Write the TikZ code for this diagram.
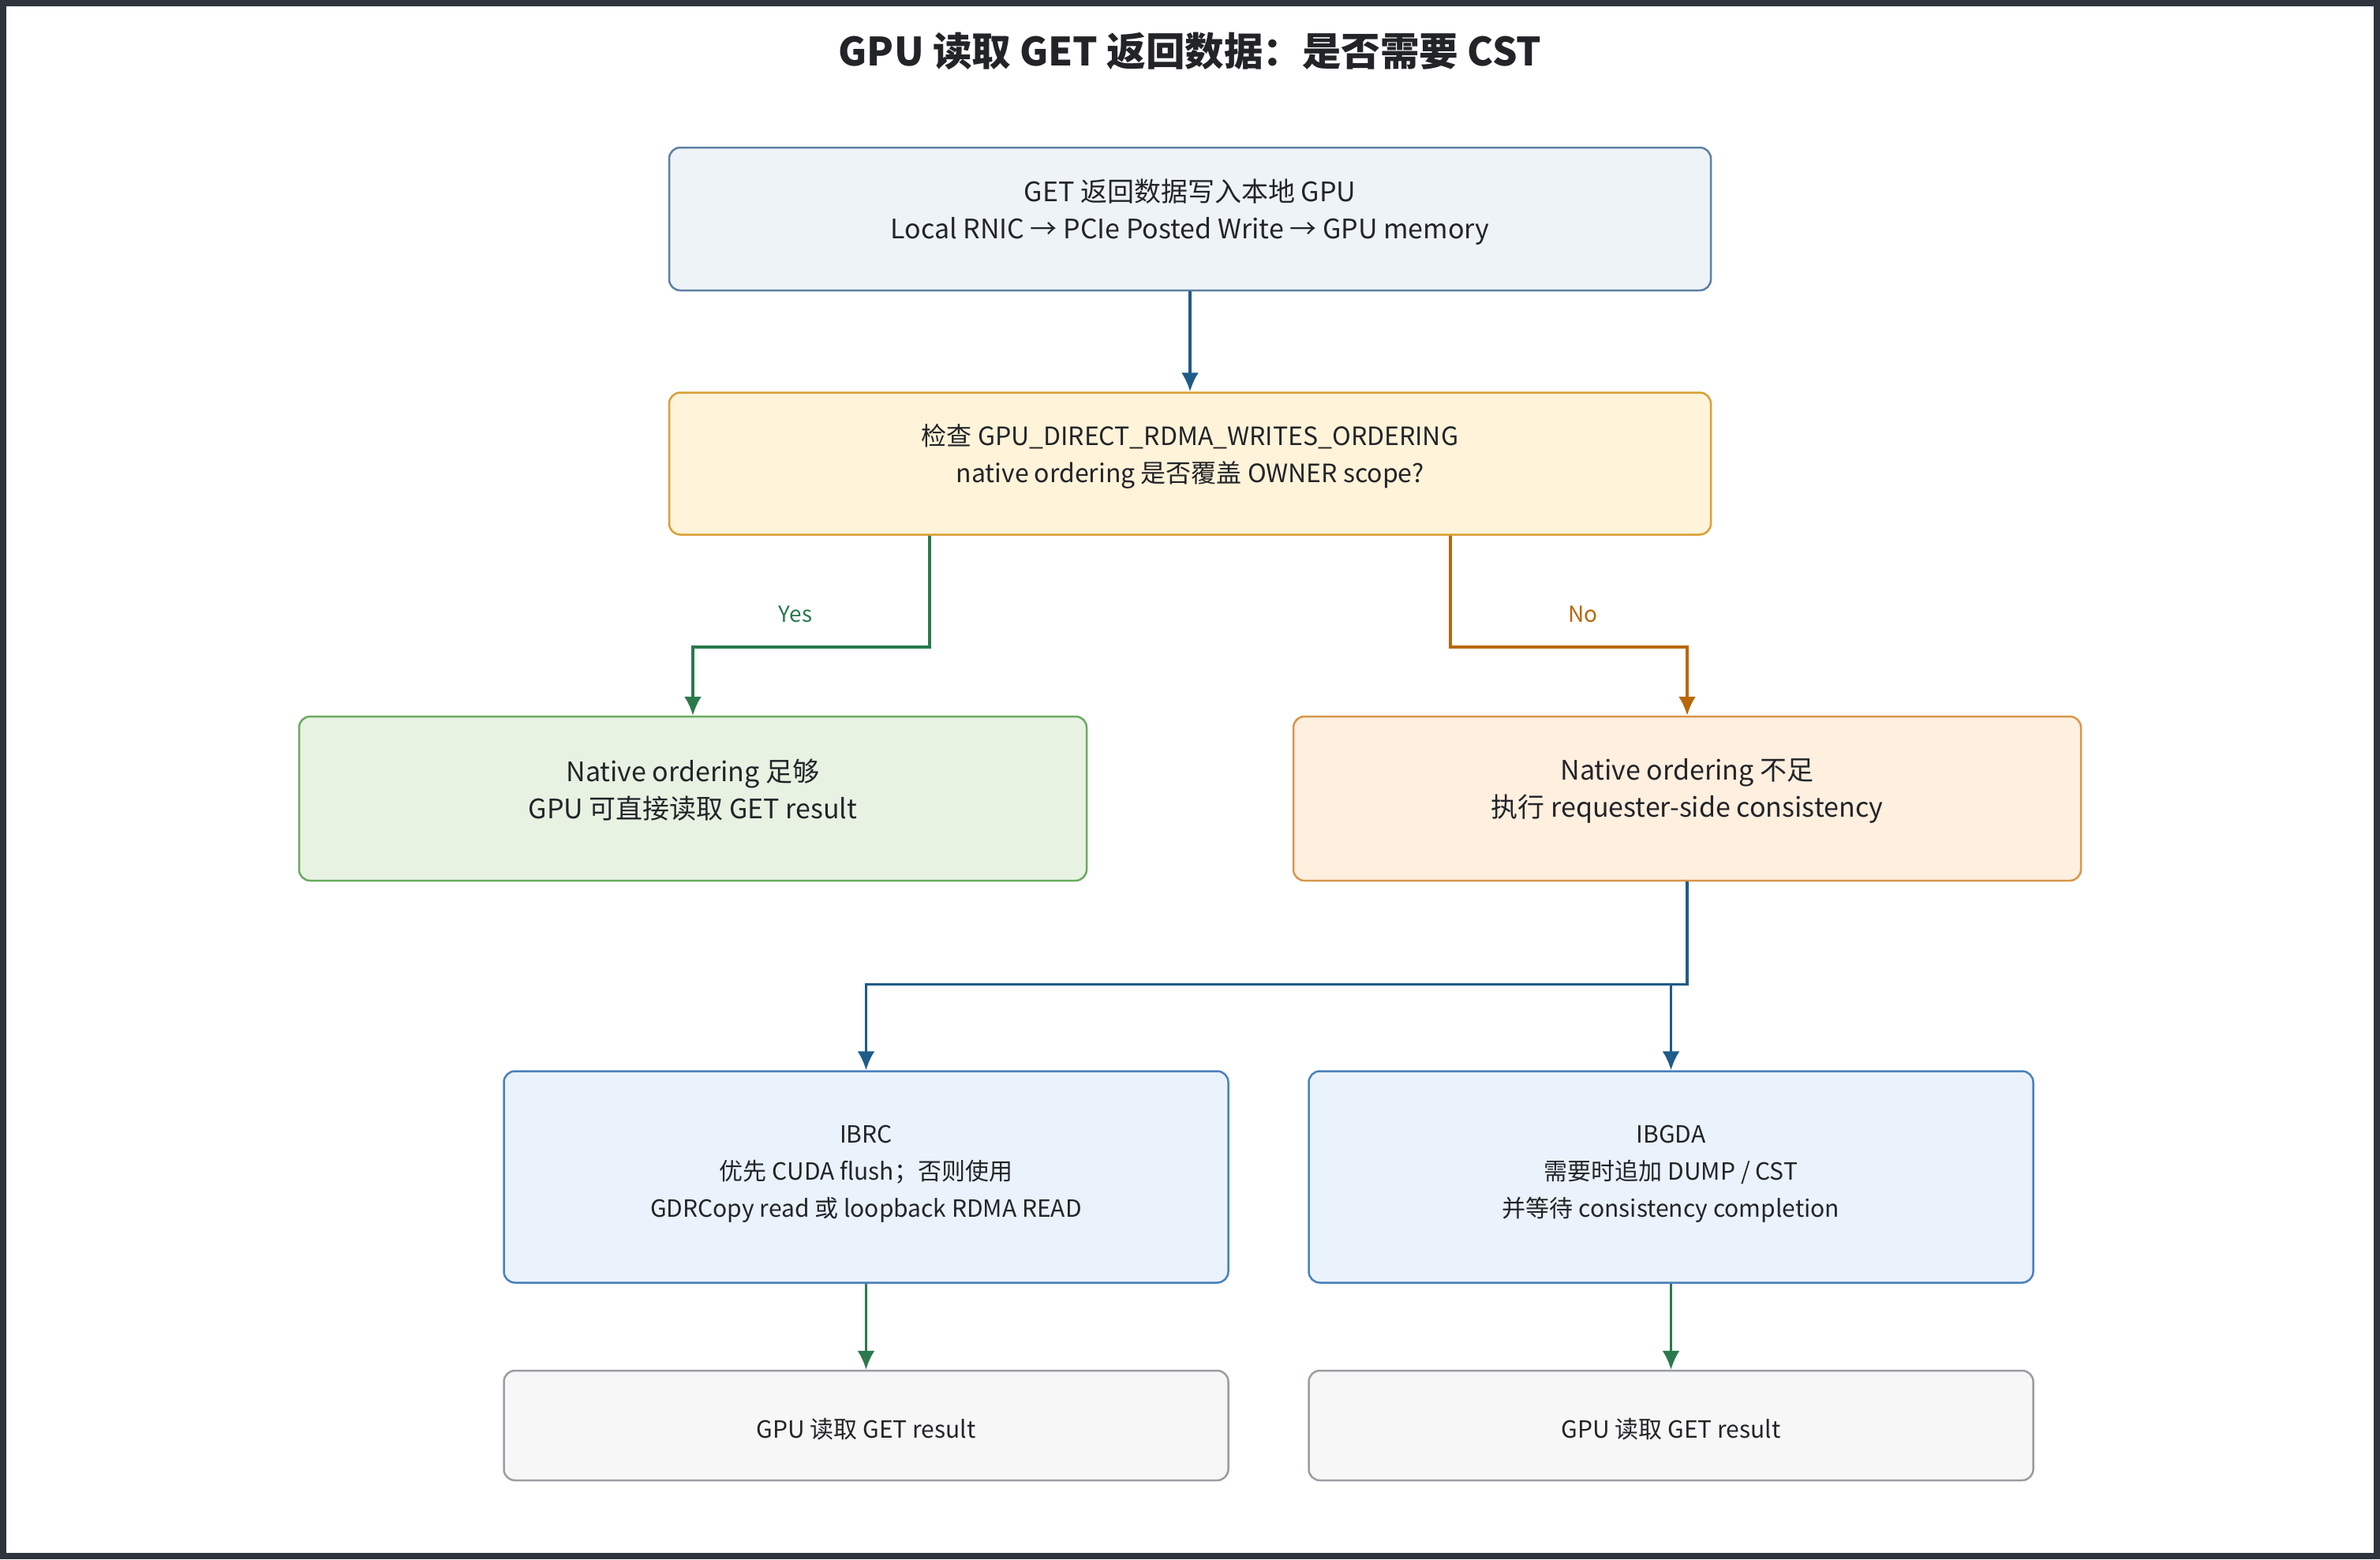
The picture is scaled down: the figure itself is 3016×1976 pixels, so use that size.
\documentclass[tikz,border=0pt]{standalone}
\usepackage{fontspec}
\setmainfont{Noto Sans CJK SC}
\usetikzlibrary{arrows.meta}

\definecolor{framegray}{HTML}{2F333B}
\definecolor{textdark}{HTML}{222428}
\definecolor{topfill}{HTML}{EEF3F8}
\definecolor{topline}{HTML}{5D7FA3}
\definecolor{checkfill}{HTML}{FFF3D9}
\definecolor{checkline}{HTML}{D9A035}
\definecolor{yesfill}{HTML}{E7F2E3}
\definecolor{yesline}{HTML}{6AAB5F}
\definecolor{nofill}{HTML}{FFEFDF}
\definecolor{noline}{HTML}{D8964A}
\definecolor{ibfill}{HTML}{EAF2FB}
\definecolor{ibline}{HTML}{4A81BE}
\definecolor{resfill}{HTML}{F7F7F7}
\definecolor{resline}{HTML}{9A9DA2}
\definecolor{arrblue}{HTML}{1F5C87}
\definecolor{arrgreen}{HTML}{2A7A4C}
\definecolor{arrorange}{HTML}{B8680A}

\newcommand{\wtop}{1320pt}
\newcommand{\wmid}{998pt}
\newcommand{\wlow}{918pt}
% invisible struts to nudge the text inside a box
\newcommand{\lowstrut}[1]{\rule[-#1]{0pt}{0pt}}
\newcommand{\highstrut}[1]{\rule{0pt}{#1}}

\begin{document}
\begin{tikzpicture}[x=1pt, y=-1pt,
    box/.style={draw, rectangle, rounded corners=14pt, line width=2.5pt, align=center, inner sep=0pt, text=textdark, font=\fontsize{34}{47}\selectfont},
    lowbox/.style={box, minimum width=\wlow, font=\fontsize{30}{47}\selectfont},
    arr/.style={line width=3.5pt, -{Latex[length=24pt, width=22pt]}},
    lbl/.style={font=\fontsize{28}{34}\selectfont}]

    % Frame
    \fill[framegray] (0,0) rectangle (3016,1976);
    \fill[white] (8,8) rectangle (3008,1968);

    \node[font=\fontsize{49.5}{56}\selectfont\bfseries, text=textdark] (title) at (1508,65) {GPU 读取 GET 返回数据：是否需要 CST};

    % First row
    \node[box, fill=topfill, draw=topline, minimum width=\wtop, minimum height=181pt] (box-top) at (1508,277.5)
        {GET 返回数据写入本地 GPU\\Local RNIC → PCIe Posted Write → GPU memory\lowstrut{25pt}};
    \node[box, fill=checkfill, draw=checkline, minimum width=\wtop, minimum height=180pt, font=\fontsize{32}{47}\selectfont] (box-check) at (1508,587.5)
        {检查 GPU\_DIRECT\_RDMA\_WRITES\_ORDERING\\native ordering 是否覆盖 OWNER scope?\lowstrut{27pt}};

    % Second row
    \node[box, fill=yesfill, draw=yesline, minimum width=\wmid, minimum height=208pt] (box-yes) at (878,1012)
        {Native ordering 足够\\GPU 可直接读取 GET result\lowstrut{24pt}};
    \node[box, fill=nofill, draw=noline, minimum width=\wmid, minimum height=208pt] (box-no) at (2138,1012)
        {Native ordering 不足\\执行 requester-side consistency\lowstrut{27pt}};

    % Third row
    \node[lowbox, fill=ibfill, draw=ibline, minimum height=268pt] (box-ibrc) at (1097.5,1491.5)
        {IBRC\\优先 CUDA flush；否则使用\\GDRCopy read 或 loopback RDMA READ\lowstrut{15pt}};
    \node[lowbox, fill=ibfill, draw=ibline, minimum height=268pt] (box-ibgda) at (2117.5,1491.5)
        {IBGDA\\需要时追加 DUMP / CST\\并等待 consistency completion\lowstrut{15pt}};

    % Fourth row
    \node[lowbox, fill=resfill, draw=resline, minimum height=139pt] (res-ibrc) at (1097.5,1806.5) {\highstrut{35pt}GPU 读取 GET result};
    \node[lowbox, fill=resfill, draw=resline, minimum height=139pt] (res-ibgda) at (2117.5,1806.5) {\highstrut{35pt}GPU 读取 GET result};

    % Connectors
    \draw[arr, arrblue] (box-top) -- (box-check);
    \draw[arr, arrgreen] ([xshift=-330pt]box-check.south) -- ++(0,141) -| (box-yes.north);
    \draw[arr, arrorange] ([xshift=330pt]box-check.south) -- ++(0,141) -| (box-no.north);
    \node[lbl, text=arrgreen] (lbl-yes) at (1008,778) {Yes};
    \node[lbl, text=arrorange] (lbl-no) at (2006,778) {No};

    \draw[arr, arrblue] (box-no.south) -- ++(0,130) -| (box-ibrc.north);
    \draw[arr, arrblue] (box-no.south) -- ++(0,130) -| (box-ibgda.north);

    \draw[arr, arrgreen] (box-ibrc) -- (res-ibrc);
    \draw[arr, arrgreen] (box-ibgda) -- (res-ibgda);

\end{tikzpicture}
\end{document}
